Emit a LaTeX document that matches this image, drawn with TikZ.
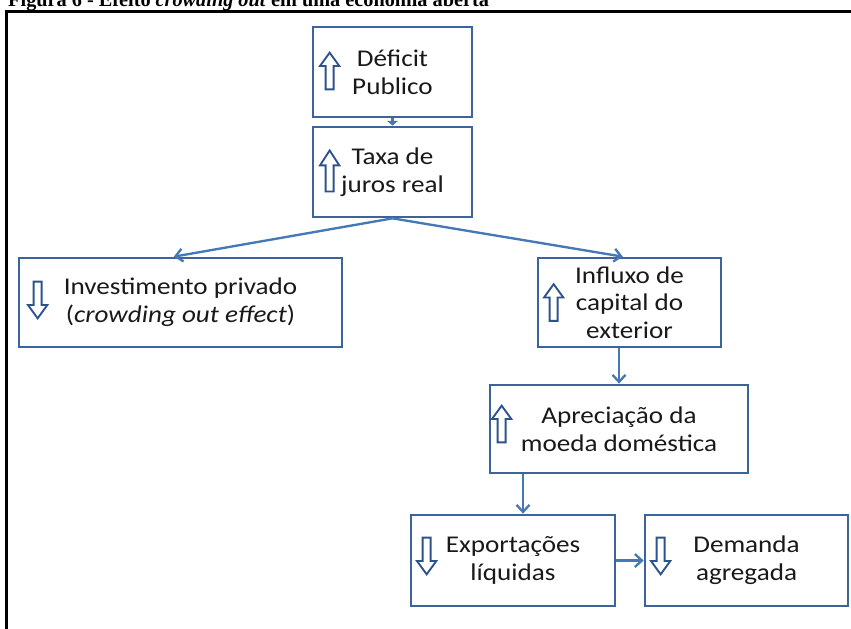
\documentclass[tikz,border=0pt]{standalone}
\usepackage{fontspec}
\setmainfont{Carlito}[FakeStretch=1.13]
\newfontfamily\capfont{Liberation Serif}
\usepackage{xcolor}
\usepackage{tikz}
\usetikzlibrary{arrows.meta,calc}

\definecolor{boxblue}{RGB}{60,100,155}
\definecolor{linkblue}{RGB}{70,120,182}
\definecolor{arrblue}{RGB}{45,82,140}
\definecolor{txtgray}{RGB}{25,25,25}

\tikzset{
    box/.style={draw=boxblue, line width=2.3pt, align=center, inner sep=0pt,
        text=txtgray, font=\fontsize{20.5}{23.6}\selectfont},
    conn/.style={draw=linkblue, line width=2pt, -{Straight Barb[length=6pt,width=11pt]}},
    arrline/.style={draw=arrblue, line width=1.6pt, fill=white, line join=miter},
    uparr/.pic={\draw[arrline] (-0.12,-0.55) -- (-0.12,0.15) -- (-0.29,0.15) -- (0,0.55)
        -- (0.29,0.15) -- (0.12,0.15) -- (0.12,-0.55) -- cycle;}
}

\begin{document}
\begin{tikzpicture}
    \useasboundingbox (0,0) rectangle (25.53,-18.84);

    % Caption and frame
    \node[anchor=base west, inner sep=0pt, font=\capfont\bfseries\fontsize{17.3}{20}\selectfont]
        (cap) at (0.24,-0.19) {Figura 6 - Efeito \textit{crowding out} em uma economia aberta};
    \draw[line width=2.6pt] (0.195,-19) |- (25.7,-0.345);

    % Boxes
    \node[box, minimum width=4.77cm, minimum height=2.7cm] (def) at (11.775,-2.16) {Déficit\\Publico};
    \node[box, minimum width=4.77cm, minimum height=2.7cm] (tax) at (11.775,-5.16) {Taxa de\\juros real};
    \node[box, minimum width=9.69cm, minimum height=2.67cm] (inv) at (5.415,-9.075)
        {Investimento privado\\(\textit{crowding out effect})};
    \node[box, minimum width=5.49cm, minimum height=2.67cm] (inf) at (18.885,-9.075)
        {Influxo de\\capital do\\exterior};
    \node[box, minimum width=7.74cm, minimum height=2.64cm] (apr) at (18.57,-12.87)
        {Apreciação da\\moeda doméstica};
    \node[box, minimum width=6.12cm, minimum height=2.73cm] (exp) at (15.39,-16.815) {Exportações\\líquidas};
    \node[box, minimum width=6.09cm, minimum height=2.73cm] (dem) at (22.395,-16.815) {Demanda\\agregada};

    % Up and down marks
    \pic at ([shift={(0.54,0.03)}]def.west) {uparr};
    \pic[yscale=1.12] at ([shift={(0.54,0.03)}]tax.west) {uparr};
    \pic[rotate=180] at ([shift={(0.6,0.075)}]inv.west) {uparr};
    \pic at ([shift={(0.51,0)}]inf.west) {uparr};
    \pic at ([shift={(0.39,0.15)}]apr.west) {uparr};
    \pic[rotate=180] at ([shift={(0.51,0.135)}]exp.west) {uparr};
    \pic[rotate=180] at ([shift={(0.51,0.135)}]dem.west) {uparr};

    % Connectors
    \draw[conn, -{Triangle[length=4pt,width=9pt]}] (def) -- (tax);
    \draw[conn] (tax.south) -- ([xshift=-0.2cm]inv.north);
    \draw[conn] (tax.south) -- ([xshift=-0.2cm]inf.north);
    \draw[conn] (inf.south -| apr.north) -- (apr.north);
    \draw[conn] ([xshift=0.3cm]exp.north |- apr.south) -- ([xshift=0.3cm]exp.north);
    \draw[conn] (exp) -- (dem);
\end{tikzpicture}
\end{document}
